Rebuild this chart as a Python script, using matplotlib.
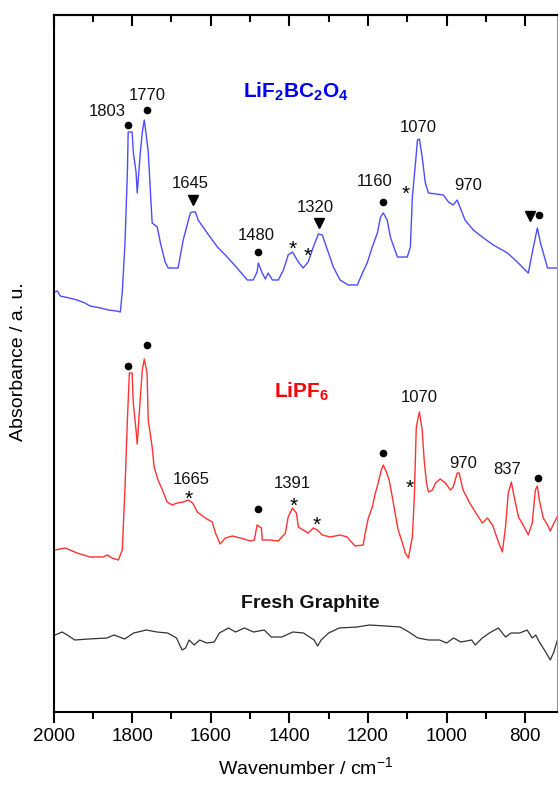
import matplotlib
matplotlib.use("Agg")
import matplotlib.pyplot as plt
from matplotlib.ticker import MultipleLocator

plt.rcParams['font.family'] = ['Liberation Sans', 'DejaVu Sans']
plt.rcParams['mathtext.fontset'] = 'custom'
plt.rcParams['mathtext.rm'] = 'Liberation Sans'
plt.rcParams['mathtext.bf'] = 'Liberation Sans:bold'

# ---- data (wavenumber cm-1, absorbance a.u. with vertical offsets) ----
blue_wn = [1998, 1990, 1983, 1960, 1940, 1920, 1907, 1880, 1860, 1840, 1830, 1825, 1818, 1812,
           1810, 1807, 1800, 1797, 1790, 1787, 1779, 1774, 1769, 1762, 1759, 1749, 1736, 1728,
           1716, 1708, 1683, 1670, 1652, 1647, 1639, 1632, 1609, 1583, 1558, 1533, 1507, 1492,
           1482, 1479, 1469, 1461, 1454, 1443, 1428, 1415, 1403, 1392, 1377, 1365, 1352, 1339,
           1326, 1316, 1303, 1288, 1271, 1250, 1227, 1214, 1202, 1189, 1176, 1168, 1161, 1151,
           1143, 1125, 1100, 1092, 1087, 1079, 1074, 1069, 1062, 1054, 1046, 1008, 995, 983,
           973, 966, 953, 932, 906, 881, 845, 820, 795, 792, 779, 769, 761, 743, 711]
blue_ab = [420, 421, 416, 414, 412, 409, 406, 404, 402, 401, 400, 420, 470, 540,
           580, 580, 580, 560, 540, 519, 560, 580, 592, 570, 560, 489, 485, 469,
           450, 444, 444, 472, 499, 500, 500, 492, 479, 465, 455, 444, 432, 432,
           440, 449, 439, 433, 439, 432, 432, 442, 457, 460, 450, 444, 450, 465,
           478, 477, 462, 445, 432, 427, 427, 439, 449, 465, 479, 495, 499, 492,
           475, 455, 455, 465, 515, 549, 572, 573, 555, 529, 519, 517, 510, 507,
           512, 505, 492, 482, 474, 467, 459, 450, 440, 439, 465, 484, 469, 444, 444]

red_wn = [1996, 1970, 1940, 1907, 1874, 1863, 1851, 1835, 1825, 1818, 1812, 1807, 1800, 1797,
          1790, 1787, 1779, 1774, 1769, 1762, 1759, 1749, 1744, 1734, 1723, 1711, 1698, 1685,
          1670, 1657, 1646, 1634, 1614, 1596, 1588, 1576, 1563, 1545, 1525, 1499, 1489, 1482,
          1471, 1469, 1449, 1428, 1410, 1403, 1392, 1382, 1377, 1365, 1352, 1339, 1329, 1316,
          1296, 1271, 1253, 1240, 1232, 1212, 1207, 1199, 1189, 1181, 1174, 1166, 1161, 1153,
          1146, 1138, 1131, 1123, 1113, 1105, 1097, 1087, 1082, 1077, 1072, 1069, 1062, 1057,
          1051, 1046, 1036, 1028, 1016, 1003, 990, 983, 973, 968, 958, 941, 922, 909, 896, 883,
          868, 858, 850, 843, 835, 830, 817, 805, 792, 782, 774, 769, 764, 754, 743, 736, 729,
          719, 711]
red_ab = [162, 164, 159, 155, 155, 157, 154, 152, 162, 225, 292, 339, 339, 309,
          282, 268, 315, 342, 353, 339, 292, 265, 245, 232, 222, 210, 207, 209,
          210, 212, 209, 200, 194, 190, 179, 168, 174, 176, 174, 171, 172, 187,
          184, 172, 172, 171, 179, 195, 204, 199, 185, 182, 179, 184, 182, 177,
          175, 177, 175, 169, 166, 167, 179, 194, 205, 219, 229, 242, 247, 240,
          232, 215, 199, 182, 170, 159, 154, 175, 215, 285, 295, 300, 282, 252,
          229, 220, 222, 229, 233, 229, 222, 225, 239, 239, 222, 209, 197, 189, 194, 187,
          170, 160, 185, 219, 230, 219, 195, 187, 177, 189, 222, 226, 212, 194, 187, 181, 187,
          195, 195]

black_wn = [1996, 1978, 1965, 1946, 1910, 1864, 1846, 1819, 1796, 1764, 1737, 1710, 1687, 1673,
            1664, 1655, 1642, 1628, 1610, 1591, 1578, 1555, 1537, 1514, 1491, 1464, 1446, 1419,
            1391, 1364, 1337, 1328, 1319, 1300, 1273, 1228, 1196, 1155, 1118, 1096, 1073, 1046,
            1018, 1000, 982, 964, 936, 927, 909, 891, 868, 850, 836, 814, 795, 782, 773, 764,
            751, 736, 727, 718]
black_ab = [77, 80, 77, 72, 73, 74, 77, 73, 79, 82, 80, 79, 74, 62,
            64, 72, 67, 72, 69, 70, 79, 84, 80, 84, 80, 82, 75, 75,
            80, 79, 72, 66, 72, 79, 84, 85, 87, 86, 85, 80, 74, 72,
            72, 69, 74, 70, 72, 67, 74, 79, 84, 75, 79, 79, 82, 74, 77, 70,
            62, 52, 60, 72]

# peak labels: (text, wavenumber, absorbance)
blue_labels = [("1803", 1863, 600), ("1770", 1762, 616), ("1645", 1652, 528), ("1480", 1484, 476),
               ("1320", 1334, 505), ("1160", 1184, 530), ("1070", 1072, 585), ("970", 945, 526)]
blue_dots = [(1810, 587), (1762, 602), (1479, 460), (1161, 510), (764, 497)]
blue_tris = [(1644, 512), (1324, 489), (787, 496)]
blue_stars = [(1392, 469), (1354, 462), (1103, 524)]

red_labels = [("1665", 1649, 233), ("1391", 1392, 229), ("1070", 1069, 315), ("970", 957, 249),
              ("837", 845, 243)]
red_dots = [(1810, 346), (1762, 367), (1479, 203), (1161, 259), (767, 234)]
red_stars = [(1657, 219), (1390, 212), (1331, 193), (1095, 230)]

# ---- figure ----
fig = plt.figure(figsize=(5.6, 7.85), dpi=100)
ax = fig.add_axes([53.5/560, 1-712/785, (557-53.5)/560, (712-15)/785])

ax.plot(blue_wn, blue_ab, color='#4d4dff', lw=1.0)
ax.plot(red_wn, red_ab, color='#ff3333', lw=1.0)
ax.plot(black_wn, black_ab, color='#333333', lw=0.9)

fs = 12
for t, x, y in blue_labels + red_labels:
    ax.text(x, y, t, fontsize=fs, ha='center', va='center', color='#111111')
for x, y in blue_dots + red_dots:
    ax.plot(x, y, 'o', color='black', ms=4.5)
for x, y in blue_tris:
    ax.plot(x, y, 'v', color='black', ms=7)
for x, y in blue_stars + red_stars:
    ax.text(x, y - 6, '*', fontsize=15, ha='center', va='center', color='black')

ax.text(1383, 620, r'$\mathbf{LiF_2BC_2O_4}$', fontsize=15, color='#0000ee',
        ha='center', va='center')
ax.text(1369, 320, r'$\mathbf{LiPF_6}$', fontsize=15, color='#ff0000',
        ha='center', va='center')
ax.text(1347, 109, 'Fresh Graphite', fontsize=14, fontweight='bold', color='#111111',
        ha='center', va='center')

ax.set_xlim(2000, 719)
ax.set_ylim(0, 697)
ax.set_yticks([])
ax.xaxis.set_major_locator(MultipleLocator(200))
ax.xaxis.set_minor_locator(MultipleLocator(100))
ax.tick_params(axis='x', which='major', direction='out', length=8, width=1.5, labelsize=13.5)
ax.tick_params(axis='x', which='minor', direction='out', length=5, width=1.5)
for s in ['left', 'bottom', 'top']:
    ax.spines[s].set_linewidth(1.5)
ax.spines['right'].set_linewidth(0.8)
ax.spines['right'].set_color('#999999')

top = ax.secondary_xaxis('top')
top.xaxis.set_major_locator(MultipleLocator(200))
top.xaxis.set_minor_locator(MultipleLocator(100))
top.tick_params(axis='x', which='major', direction='in', length=8, width=1.5, labeltop=False)
top.tick_params(axis='x', which='minor', direction='in', length=5, width=1.5)
top.spines['top'].set_linewidth(1.5)

ax.set_xlabel(r'Wavenumber / cm$^{-1}$', fontsize=14, labelpad=8)
fig.text(19/560, 1-362/785, 'Absorbance / a. u.', rotation=90, fontsize=14,
         ha='center', va='center')

fig.savefig('out.png', dpi=100)
